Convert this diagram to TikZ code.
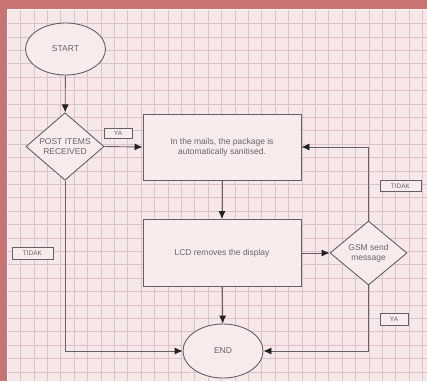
\documentclass[tikz,border=0pt]{standalone}
\usepackage{fontspec}
\setmainfont{Liberation Sans}
\usetikzlibrary{arrows.meta,shapes.geometric}
\definecolor{bord}{HTML}{C87474}
\definecolor{bgpink}{HTML}{F6E7E9}
\definecolor{gridc}{HTML}{DCC3C7}
\definecolor{linec}{HTML}{666062}
\definecolor{fillc}{HTML}{F7EBEC}
\definecolor{txtc}{HTML}{6A6566}
\definecolor{tipc}{HTML}{262224}
\tikzset{
  shp/.style={draw=linec, line width=0.9pt, fill=fillc, text=txtc, font=\fontsize{8.5}{10}\selectfont, align=center, inner sep=0pt},
  term/.style={shp, ellipse, minimum width=80pt, minimum height=52pt},
  decis/.style={shp, diamond, minimum width=78pt, minimum height=63pt},
  procbox/.style={shp, rectangle, minimum width=158pt, minimum height=66pt},
  lbl/.style={draw=linec, line width=0.6pt, fill=fillc, text=txtc, font=\fontsize{6.5}{7}\selectfont, inner sep=0pt, minimum height=10pt},
  arr/.style={draw=linec, line width=0.9pt, -{Latex[length=8pt,width=7pt,color=tipc]}}
}
\begin{document}
\begin{tikzpicture}[x=1pt,y=-1pt]
\useasboundingbox (0,0) rectangle (427,381);
\fill[bord] (0,0) rectangle (427,381);
\fill[bgpink] (7,9) rectangle (427,381);
\draw[white!70!bgpink, line width=1pt] (7.5,9.5) -- (427,9.5);
\draw[white!70!bgpink, line width=1pt] (7.5,9.5) -- (7.5,381);
\foreach \i in {1,...,31} \draw[gridc, line width=0.5pt] ({7+13.4*\i},10) -- ({7+13.4*\i},381);
\foreach \j in {1,...,28} \draw[gridc, line width=0.5pt] (8,{10+13.4*\j}) -- (427,{10+13.4*\j});

\node[term] (start) at (65.5,49) {START};
\node[decis] (post) at (65,146.5) {POST ITEMS\\RECEIVED};
\node[procbox] (p1) at (222,147) {In the mails, the package is\\automatically sanitised.};
\node[procbox, minimum height=67pt] (p2) at (222,253) {LCD removes the display};
\node[decis, minimum width=77pt, minimum height=64pt] (gsm) at (368.5,253) {GSM send\\message};
\node[term, minimum height=54pt] (end) at (223,351) {END};

\draw[arr] (start) -- (post);
\draw[arr] (post.east) -- (p1.west);
\draw[arr] (p1) -- (p2);
\draw[arr] (p2) -- (gsm);
\draw[arr] (p2) -- (end);
\draw[arr] (gsm.north) |- (p1.east);
\draw[arr] (gsm.south) |- (end.east);
\draw[arr] (post.south) |- (end.west);

\node[lbl, minimum width=28pt] (ya1) at (118,133.5) {YA};
\node[lbl, minimum width=41pt, minimum height=11pt] (td1) at (400.5,186) {TIDAK};
\node[lbl, minimum width=28pt, minimum height=12pt] (ya2) at (394,319) {YA};
\node[lbl, minimum width=41pt, minimum height=12pt] (td2) at (32.5,253) {TIDAK};
\end{tikzpicture}
\end{document}
